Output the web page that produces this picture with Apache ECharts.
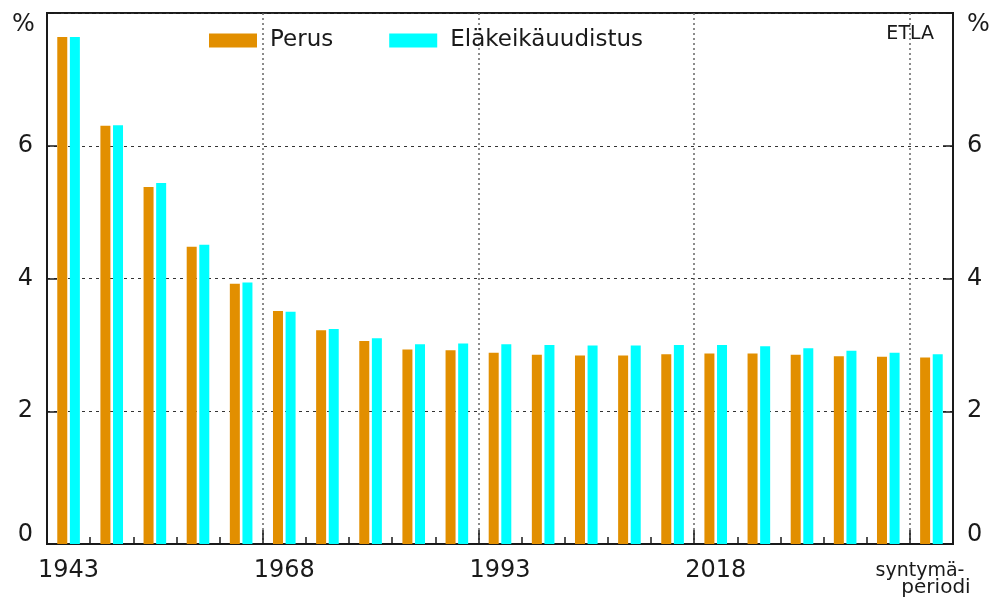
<!DOCTYPE html>
<html>
<head>
<meta charset="utf-8">
<script src="https://cdn.jsdelivr.net/npm/echarts@6/dist/echarts.min.js"></script>
<style>
html,body{margin:0;padding:0;background:#fff;}
#chart{width:994px;height:597px;}
</style>
</head>
<body>
<div id="chart"></div>
<script>
const categories = ['1943','1948','1953','1958','1963','1968','1973','1978','1983','1988','1993','1998','2003','2008','2013','2018','2023','2028','2033','2038','2043'];
const perus = [7.64,6.30,5.38,4.48,3.92,3.51,3.22,3.06,2.93,2.92,2.88,2.85,2.84,2.84,2.86,2.87,2.87,2.85,2.83,2.82,2.81];
const uudistus = [7.64,6.31,5.44,4.51,3.94,3.50,3.24,3.10,3.01,3.02,3.01,3.00,2.99,2.99,3.00,3.00,2.98,2.95,2.91,2.88,2.86];
const yTicks = [0,2,4,6,8];
const seriesNames = ['Perus','Eläkeikäuudistus'];

const FONT = 'DejaVu Sans';
const AXC = '#1a1a1a';

const yLabelFmt = function(v){ if (v === 0) return '{z|0}'; if (v === 8) return ''; return String(v); };
const yRich = { z: { fontSize: 24, fontFamily: FONT, color: AXC, padding: [0,0,18,0] } };

const chart = echarts.init(document.getElementById('chart'), null, {renderer:'canvas'});
chart.setOption({
  animation: false,
  backgroundColor: '#fff',
  grid: { left: 47, right: 41, top: 13, bottom: 53, show: true, borderColor: AXC, borderWidth: 2, backgroundColor: 'transparent' },
  legend: {
    left: 209, top: 29, padding: 0,
    itemWidth: 48, itemHeight: 14, itemGap: 56,
    icon: 'rect',
    textStyle: { fontFamily: FONT, fontSize: 23, color: AXC, padding: [0,0,0,8] },
    data: seriesNames
  },
  xAxis: [
    {
      type: 'category', data: categories, position: 'bottom',
      boundaryGap: true,
      axisLine: { lineStyle: { color: AXC, width: 2 } },
      axisTick: { show: true, inside: true, interval: 0, length: 7, lineStyle: { color: AXC, width: 1.5 } },
      axisLabel: { interval: 4, margin: 15, fontFamily: FONT, fontSize: 24, color: AXC,
        formatter: function(v){ return v === '2043' ? '' : v; } },
      splitLine: { show: true, interval: 4, lineStyle: { color: '#666', width: 1.5, type: [2,3] } }
    },
    {
      type: 'category', data: categories, position: 'bottom',
      boundaryGap: true,
      axisLine: { show: false },
      axisTick: { show: true, inside: true, interval: 4, length: 14, lineStyle: { color: AXC, width: 1.5 } },
      axisLabel: { show: false },
      splitLine: { show: false }
    }
  ],
  yAxis: [
    {
      type: 'value', min: 0, max: 8, interval: 2, position: 'left',
      axisLine: { show: true, lineStyle: { color: AXC, width: 2 } },
      axisTick: { show: true, inside: true, length: 10, lineStyle: { color: AXC, width: 1.5 } },
      axisLabel: { margin: 14, fontFamily: FONT, fontSize: 24, color: AXC, formatter: yLabelFmt, rich: yRich },
      splitLine: { show: true, lineStyle: { color: '#333', width: 1, type: [3,4] } }
    },
    {
      type: 'value', min: 0, max: 8, interval: 2, position: 'right',
      axisLine: { show: true, lineStyle: { color: AXC, width: 2 } },
      axisTick: { show: true, inside: true, length: 10, lineStyle: { color: AXC, width: 1.5 } },
      axisLabel: { margin: 14, fontFamily: FONT, fontSize: 24, color: AXC, formatter: yLabelFmt, rich: yRich },
      splitLine: { show: false }
    }
  ],
  series: [
    { name: seriesNames[0], type: 'bar', xAxisIndex: 0, yAxisIndex: 0, data: perus,
      barWidth: 10, barGap: '26%', itemStyle: { color: '#E28F00' } },
    { name: seriesNames[1], type: 'bar', xAxisIndex: 0, yAxisIndex: 0, data: uudistus,
      barWidth: 10, barGap: '26%', itemStyle: { color: '#00FFFF' } }
  ],
  graphic: [
    { type: 'text', left: 12, top: 13, style: { text: '%', font: '24px "DejaVu Sans"', fill: AXC } },
    { type: 'text', left: 967, top: 13, style: { text: '%', font: '24px "DejaVu Sans"', fill: AXC } },
    { type: 'text', right: 60, top: 25, style: { text: 'ETLA', font: '19px "DejaVu Sans"', fill: AXC } },
    { type: 'text', x: 920, y: 571, style: { text: 'syntymä-', font: '19px "DejaVu Sans"', fill: AXC, align: 'center', verticalAlign: 'middle' } },
    { type: 'text', x: 936, y: 588, style: { text: 'periodi', font: '20px "DejaVu Sans"', fill: AXC, align: 'center', verticalAlign: 'middle' } }
  ]
});
</script>
</body>
</html>
